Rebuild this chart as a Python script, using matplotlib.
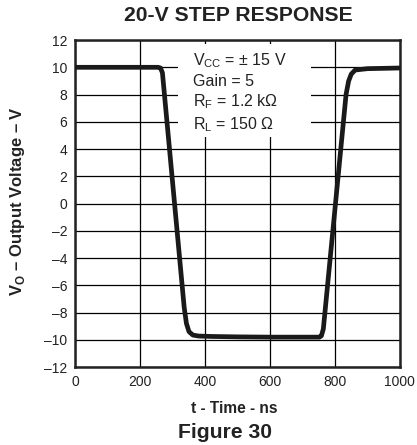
import matplotlib
matplotlib.use("Agg")
import matplotlib.pyplot as plt
from matplotlib.patches import Rectangle

plt.rcParams['font.family'] = ['Liberation Sans', 'DejaVu Sans']
plt.rcParams['mathtext.fontset'] = 'custom'
plt.rcParams['mathtext.rm'] = 'Liberation Sans'
plt.rcParams['mathtext.bf'] = 'Liberation Sans:bold'

# Data
time_ns = [0, 255, 262, 268, 335, 342, 350, 362, 380, 420, 500, 600, 700,
           752, 758, 764, 834, 842, 850, 862, 900, 1000]
vout = [10, 10, 9.95, 9.6, -7.6, -8.8, -9.4, -9.65, -9.72, -9.75, -9.78, -9.8,
        -9.8, -9.8, -9.7, -9.2, 8.0, 9.0, 9.5, 9.8, 9.9, 9.95]
xticks = [0, 200, 400, 600, 800, 1000]
yticks = list(range(-12, 13, 2))

fig = plt.figure(figsize=(4.17, 4.45), dpi=100)
ax = fig.add_axes([0.181, 0.175, 0.778, 0.735])

ax.set_xlim(0, 1000)
ax.set_ylim(-12, 12)
ax.set_xticks(xticks)
ax.set_yticks(yticks)
ax.set_yticklabels([str(v).replace('-', '\u2013') for v in yticks])
ax.tick_params(length=0, labelsize=10, pad=6, colors='#222222')
ax.grid(True, color='black', linewidth=0.9)
ax.set_axisbelow(True)
for s in ax.spines.values():
    s.set_linewidth(1.8)
    s.set_color('#222222')

# white box behind annotation
ax.add_patch(Rectangle((317, 4.87), 409, 6.83, facecolor='white', edgecolor='none', zorder=1.5))

ax.plot(time_ns, vout, color='#1a1a1a', linewidth=3.4, solid_joinstyle='round',
        solid_capstyle='round', zorder=3)

tx = 362
fs = 11.5
ax.text(tx, 10.16, r'V$_{\rm CC}$ = $\pm$ 15 V', fontsize=fs, zorder=4, color='#222222')
ax.text(tx, 8.62, 'Gain = 5', fontsize=fs, zorder=4, color='#222222')
ax.text(tx, 7.15, r'R$_{\rm F}$ = 1.2 k$\Omega$', fontsize=fs, zorder=4, color='#222222')
ax.text(tx, 5.46, r'R$_{\rm L}$ = 150 $\Omega$', fontsize=fs, zorder=4, color='#222222')

fig.text(0.571, 0.966, '20-V STEP RESPONSE', ha='center', va='center',
         fontsize=15.2, fontweight='bold', color='#222222')
fig.text(0.562, 0.083, 't - Time - ns', ha='center', va='center',
         fontsize=11.2, fontweight='bold', color='#222222')
fig.text(0.54, 0.029, 'Figure 30', ha='center', va='center',
         fontsize=15.2, fontweight='bold', color='#222222')
fig.text(0.043, 0.548, 'V$_{\\mathbf{O}}$ \u2013 Output Voltage \u2013 V', rotation=90,
         ha='center', va='center', fontsize=12, fontweight='bold', color='#222222')

fig.savefig('out.png', dpi=100)
